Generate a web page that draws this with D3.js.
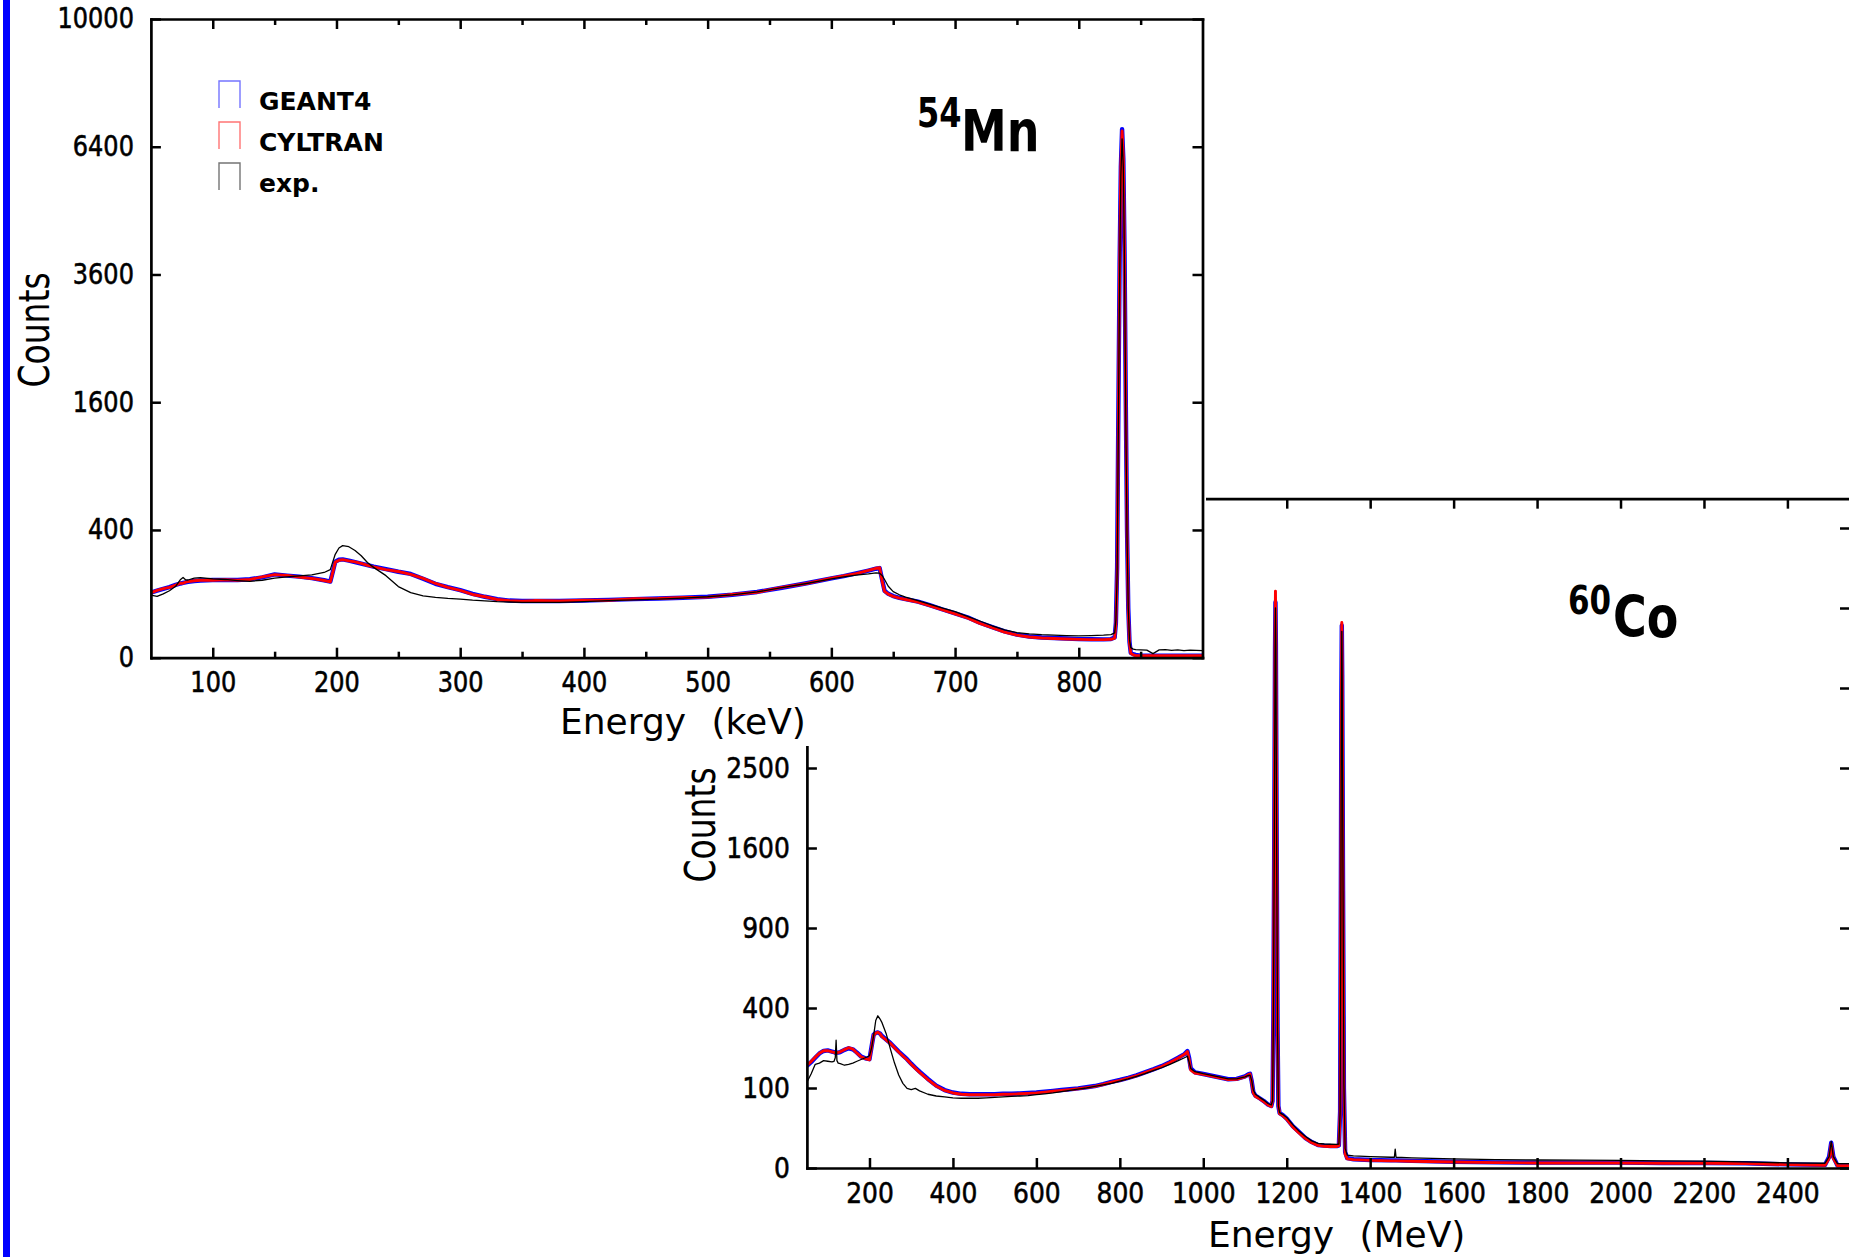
<!DOCTYPE html>
<html>
<head>
<meta charset="utf-8">
<script src="https://cdn.jsdelivr.net/npm/d3@7"></script>
<style>
  html, body { margin: 0; padding: 0; background: #fff; }
  svg { display: block; }
  text { font-family: "DejaVu Sans", sans-serif; fill: #000; }
</style>
</head>
<body>
<svg id="chart" width="1849" height="1257"></svg>
<script>
// ---------- 54Mn spectrum (keV, counts per channel) ----------
const mnEnergy = [
  50,55,60,65,70,74,76,78,80,85,
  90,100,110,120,130,140,150,160,170,180,
  190,195,197,199,202,205,210,215,220,225,
  230,240,250,260,270,280,290,300,310,320,
  330,340,350,360,380,400,420,440,460,480,
  500,520,540,560,580,600,610,620,630,636,
  639,641,643,646,650,655,660,670,680,690,
  700,710,720,730,740,750,760,770,780,790,
  800,810,820,826,829,830,831,832,833,834,
  835,836,837,838,839,840,841,842,844,846,
  850,855,860,865,870,875,880,885,890,895,900
];
const mnGeant4 = [
  104,110,116,122,130,135,137,139,141,144,
  146,148,148,148,151,158,170,165,161,155,
  147,142,180,226,235,237,231,224,217,210,
  203,192,181,172,153,134,122,112,100,91,
  84,80,79,79,79,80,82,84,86,88,
  91,97,106,120,136,154,163,174,186,194,
  197,150,110,100,93,88,84,77,67,57,
  48,40,30,23,17,13,11,10,9.5,9,
  8.5,8.3,8.2,8.5,10,30,200,1500,3800,5900,
  6850,6100,4000,1600,400,60,6,0.6,0.3,0.2,
  0.1,0.1,0.1,0.1,0.1,0.1,0.1,0.1,0.1,0.1,0.1
];
const mnCyltran = [
  103,111,117,121,129,136,136,140,142,145,
  147,147,149,147,150,160,169,166,159,154,
  146,141,178,224,233,236,230,225,218,209,
  202,190,182,170,154,135,121,111,98,91,
  83,80,78,80,79,81,81,85,86,89,
  90,98,105,121,135,155,164,173,187,196,
  199,145,108,99,92,87,83,76,66,56,
  47,39,29,22,16,12.5,10.5,9.5,9,8.6,
  8.2,8,8,8.3,9.5,28,180,1400,3700,5950,
  6800,6150,3900,1500,380,55,5,0.5,0.2,0.1,
  0.1,0.1,0.1,0.1,0.1,0.1,0.1,0.1,0.1,0.1,0.1
];
const mnExp = [
  96,92,100,110,125,150,158,149,148,155,
  157,152,150,146,143,147,155,160,164,168,
  178,190,225,262,295,308,302,282,255,222,
  200,165,124,104,94,89,86,84,81,79,
  77,76,75,75,75,77,80,82,84,87,
  91,97,106,120,135,152,160,167,172,176,
  175,166,150,125,107,97,90,80,70,60,
  52,42,33,25,19,15.5,14,13,12.5,12,
  11.6,12,12.5,13,15,35,170,1300,3500,5700,
  6600,5900,3700,1400,360,60,8,2.5,1.8,1.6,
  1.5,1.4,0.4,1.5,1.6,1.3,1.5,1.2,1.4,1.3,1.2
];
const mnXTicks = [100,200,300,400,500,600,700,800];
const mnXMinor = [150,250,350,450,550,650,750,850];
const mnYTicks = [0,400,1600,3600,6400,10000];

// ---------- 60Co spectrum ----------
const coEnergy = [
  50,60,70,80,90,100,110,115,118,120,
  122,125,130,140,150,160,170,180,190,200,
  205,210,215,220,225,230,240,250,260,270,
  280,290,300,310,320,340,360,380,400,420,
  440,460,480,500,520,540,560,580,600,620,
  640,660,680,700,720,740,760,780,800,820,
  840,860,880,900,920,940,955,962,966,970,
  980,1000,1020,1040,1060,1080,1100,1108,1112,1116,
  1120,1125,1135,1145,1155,1163,1166,1168,1170,1172,
  1173,1174,1176,1178,1180,1183,1190,1200,1215,1230,
  1245,1260,1275,1290,1305,1320,1325,1328,1330,1331,
  1332,1333,1335,1337,1340,1345,1360,1400,1450,1458,
  1460,1462,1500,1600,1700,1800,1900,2000,2100,2200,
  2300,2400,2490,2500,2505,2510,2520,2550
];
const coGeant4 = [
  163,175,190,205,214,216,212,210,208,208,
  208,208,210,218,224,220,208,194,188,185,
  230,278,285,287,283,272,258,244,228,212,
  198,185,170,157,145,124,106,95,89,86,
  85,85,85,85,86,86,87,88,89,91,
  93,95,97,99,102,105,110,116,121,127,
  134,143,152,162,175,190,203,214,190,155,
  143,138,133,128,123,124,131,137,139,118,
  90,82,76,70,63,60,70,350,1600,4200,
  5000,4300,1600,300,60,47,44,38,27,20,
  14,10.5,8.3,7.8,7.6,7.5,8,50,1500,3500,
  4600,3800,1200,100,4,1.5,1.2,1.0,0.9,0.9,
  0.9,0.9,0.8,0.6,0.5,0.45,0.45,0.45,0.4,0.4,
  0.35,0.2,0.15,2,10,2,0.1,0.1
];
const coCyltran = [
  165,177,192,206,215,215,211,209,207,207,
  207,209,211,219,226,221,206,193,187,183,
  228,276,284,288,282,270,256,243,226,210,
  196,183,168,155,143,122,105,94,88,85,
  84,84,84,84,85,85,86,87,88,90,
  92,94,96,98,101,104,109,115,120,126,
  133,142,151,161,174,189,202,212,185,150,
  141,137,132,127,122,123,130,136,138,115,
  88,80,75,69,62,59,72,380,1700,4400,
  5200,4400,1700,320,62,46,43,37,26,19,
  13.5,10,8,7.4,7.2,7.2,7.8,48,1450,3450,
  4650,3750,1150,95,3,1.3,1.1,0.9,0.8,0.8,
  0.8,0.8,0.7,0.55,0.45,0.4,0.4,0.4,0.35,0.35,
  0.3,0.18,0.12,1.5,9,1.5,0.08,0.08
];
const coExp = [
  115,138,168,172,180,178,176,178,190,255,
  180,172,170,165,168,172,178,184,190,197,
  225,275,340,362,348,330,282,222,172,135,
  112,99,96,99,93,85,81,79,77,76,
  76,76,77,78,79,80,81,82,84,86,
  88,91,94,97,100,104,108,112,118,124,
  131,139,148,157,168,180,190,195,175,155,
  145,139,134,129,124,124,130,134,135,120,
  95,85,78,72,65,62,70,330,1500,4000,
  4900,4200,1500,300,60,48,45,40,29,21,
  15.5,11.5,9.5,9,8.8,8.7,9,50,1400,3400,
  4500,3700,1200,110,6,2.6,2.3,2.0,1.8,1.8,
  5.6,1.8,1.6,1.3,1.1,1.0,0.95,0.9,0.8,0.75,
  0.6,0.4,0.35,2,11,2,0.3,0.3
];
const coXTicks = [200,400,600,800,1000,1200,1400,1600,1800,2000,2200,2400];
const coYTicks = [0,100,400,900,1600,2500,3600,4900,6400];
const coYLabels = [0,100,400,900,1600,2500];

const seriesNames = ["GEANT4", "CYLTRAN", "exp."];
const seriesColors = ["#0000ff", "#ff0000", "#000000"];

// ---------- drawing ----------
const svg = d3.select("#chart");
const defs = svg.append("defs");

// tick labels use a slightly tall, medium-weight letterform
const TICK_STRETCH = 1.15;

function styleAxis(sel, fontSize) {
  sel.attr("font-family", "DejaVu Sans").attr("font-size", fontSize);
  sel.select(".domain").attr("stroke", "#000").attr("stroke-width", 2.7)
     .attr("stroke-linecap", "square");
  sel.selectAll(".tick line").attr("stroke", "#000").attr("stroke-width", 2.5);
  sel.selectAll(".tick text").attr("fill", "#000")
     .attr("stroke", "#000").attr("stroke-width", 0.5)
     .attr("transform", `scale(1,${TICK_STRETCH})`);
}

function drawPanel(p) {
  const g = svg.append("g");
  const x = p.x, y = p.y;
  const [xa, xb] = x.range();
  const [yb, ya] = y.range();

  defs.append("clipPath").attr("id", p.id + "-clip")
    .append("rect").attr("x", xa).attr("y", ya - 2)
    .attr("width", xb - xa).attr("height", yb - ya + 2);

  const plot = g.append("g").attr("clip-path", `url(#${p.id}-clip)`);
  const line = d3.line()
    .x(d => x(d[0]))
    .y(d => y(Math.max(0, d[1])));

  const widths = [4.4, 2.9, 1.3];
  p.series.forEach((vals, i) => {
    plot.append("path")
      .datum(d3.zip(p.energy, vals))
      .attr("d", line)
      .attr("fill", "none")
      .attr("stroke", seriesColors[i])
      .attr("stroke-width", widths[i])
      .attr("stroke-linejoin", "round");
  });

  // frame with inward ticks on all four sides
  const bottom = g.append("g").attr("transform", `translate(0,${yb})`)
    .call(d3.axisBottom(x).tickValues(p.xTicks).tickSizeInner(-10).tickSizeOuter(0)
      .tickPadding(13).tickFormat(d3.format("d")));
  styleAxis(bottom, p.tickFont);

  const top = g.append("g").attr("transform", `translate(0,${ya})`)
    .call(d3.axisTop(x).tickValues(p.xTicks).tickSizeInner(-10).tickSizeOuter(0));
  top.selectAll(".tick text").remove();
  styleAxis(top, p.tickFont);

  if (p.xMinor) {
    [[d3.axisBottom, yb], [d3.axisTop, ya]].forEach(([ax, ty]) => {
      const m = g.append("g").attr("transform", `translate(0,${ty})`)
        .call(ax(x).tickValues(p.xMinor).tickSizeInner(-6).tickSizeOuter(0));
      m.select(".domain").remove();
      m.selectAll(".tick text").remove();
      styleAxis(m, p.tickFont);
    });
  }

  const left = g.append("g").attr("transform", `translate(${xa},0)`)
    .call(d3.axisLeft(y).tickValues(p.yTicks).tickSizeInner(-10).tickSizeOuter(0)
      .tickPadding(17).tickFormat(d => p.yLabels.includes(d) ? String(d) : ""));
  styleAxis(left, p.tickFont);

  const right = g.append("g").attr("transform", `translate(${xb},0)`)
    .call(d3.axisRight(y).tickValues(p.yTicks).tickSizeInner(-10).tickSizeOuter(0));
  right.selectAll(".tick text").remove();
  styleAxis(right, p.tickFont);

  // axis titles
  g.append("text")
    .attr("x", p.xTitle.x).attr("y", p.xTitle.y)
    .attr("font-size", 36)
    .text(p.xTitle.text[0] + " ")
    .append("tspan").attr("dx", 14).text(p.xTitle.text[1]);

  g.append("text")
    .attr("transform", `translate(${p.yTitle.x},${p.yTitle.y}) rotate(-90) scale(1,1.3)`)
    .attr("text-anchor", "middle")
    .attr("font-size", 33)
    .text("Counts");

  // isotope label
  const t = g.append("text")
    .attr("transform", `translate(${p.iso.x},${p.iso.y}) scale(1,1.25)`)
    .attr("font-weight", "bold");
  t.append("tspan").attr("x", 0).attr("y", p.iso.supY)
    .attr("font-size", p.iso.supSize).text(p.iso.mass);
  t.append("tspan").attr("x", p.iso.elemX).attr("y", 0)
    .attr("font-size", 46).text(p.iso.elem);

  return g;
}

// lower panel (60Co) first; the upper panel sits on top of it
drawPanel({
  id: "co",
  x: d3.scaleLinear().domain([50, 2550]).range([806.9, 1850]),
  y: d3.scaleSqrt().domain([0, 7000]).range([1168, 1168 - 8 * Math.sqrt(7000)]),
  energy: coEnergy,
  series: [coGeant4, coCyltran, coExp],
  xTicks: coXTicks,
  yTicks: coYTicks,
  yLabels: coYLabels,
  tickFont: 25,
  xTitle: { x: 1208, y: 1247, text: ["Energy", "(MeV)"] },
  yTitle: { x: 715, y: 825 },
  iso: { x: 1568, y: 637, mass: "60", elem: "Co", supY: -18.4, supSize: 31, elemX: 45 }
});

// white backing of the upper panel
svg.append("rect").attr("x", 0).attr("y", 0).attr("width", 1206).attr("height", 746)
  .attr("fill", "#fff");

const mnPanel = drawPanel({
  id: "mn",
  x: d3.scaleLinear().domain([50, 900]).range([150.9, 1202.5]),
  y: d3.scaleSqrt().domain([0, 10000]).range([657.7, 19]),
  energy: mnEnergy,
  series: [mnGeant4, mnCyltran, mnExp],
  xTicks: mnXTicks,
  xMinor: mnXMinor,
  yTicks: mnYTicks,
  yLabels: mnYTicks,
  tickFont: 24,
  xTitle: { x: 560, y: 734, text: ["Energy", "(keV)"] },
  yTitle: { x: 49, y: 330 },
  iso: { x: 917, y: 151, mass: "54", elem: "Mn", supY: -19.2, supSize: 32, elemX: 44 }
});

// legend of the upper panel
const legend = mnPanel.append("g");
seriesNames.forEach((name, i) => {
  const top = 81 + i * 41;
  legend.append("path")
    .attr("d", `M219,${top + 27}V${top}H240V${top + 27}`)
    .attr("fill", "none")
    .attr("stroke", seriesColors[i])
    .attr("stroke-opacity", 0.55)
    .attr("stroke-width", 1.4);
  legend.append("text")
    .attr("x", 259).attr("y", top + 29)
    .attr("font-size", 25).attr("font-weight", "bold")
    .text(name);
});

// blue margin bar
svg.append("rect").attr("x", 3).attr("y", 0).attr("width", 7).attr("height", 1257)
  .attr("fill", "#0000ff");
</script>
</body>
</html>
